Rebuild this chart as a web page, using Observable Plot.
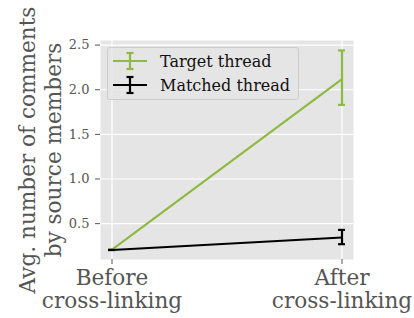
<!DOCTYPE html>
<html><head><meta charset="utf-8">
<script src="https://cdn.jsdelivr.net/npm/d3@7"></script>
<script src="https://cdn.jsdelivr.net/npm/@observablehq/plot@0.6"></script>
<style>
body{margin:0;background:#fff;}
#wrap{position:relative;width:414px;height:318px;}
#legend{position:absolute;left:107px;top:47px;width:190px;height:51px;background:rgba(229,229,229,0.85);border:1px solid #cccccc;border-radius:3px;font-family:'DejaVu Serif',serif;font-size:16px;color:#111;}
.row{position:absolute;left:5px;height:20px;display:flex;align-items:center;}
.row span{margin-left:13px;font-family:'DejaVu Serif',serif;}
</style></head>
<body><div id="wrap"><div id="legend"></div></div>
<script>
const stages = ["Before\ncross-linking", "After\ncross-linking"];
const targetMean = [0.21, 2.12];
const targetLow = [0.21, 1.83];
const targetHigh = [0.21, 2.44];
const matchedMean = [0.205, 0.345];
const matchedLow = [0.205, 0.27];
const matchedHigh = [0.205, 0.43];
const seriesNames = ["Target thread", "Matched thread"];
const seriesColors = ["#8EBA42", "#000000"];

const rows = [];
stages.forEach((s, i) => {
  rows.push({series: seriesNames[0], x: i, y: targetMean[i], lo: targetLow[i], hi: targetHigh[i]});
});
stages.forEach((s, i) => {
  rows.push({series: seriesNames[1], x: i, y: matchedMean[i], lo: matchedLow[i], hi: matchedHigh[i]});
});
const capW = 0.015;
const color = {domain: seriesNames, range: seriesColors};

const chart = Plot.plot({
  width: 414, height: 318,
  marginLeft: 100, marginRight: 61, marginTop: 40, marginBottom: 59,
  style: {fontFamily: "'DejaVu Serif', serif", background: "transparent"},
  x: {domain: [-0.05, 1.05]},
  y: {domain: [0.0985, 2.5515]},
  color,
  marks: [
    Plot.frame({fill: "#E5E5E5", stroke: null}),
    Plot.gridY([0.5, 1.0, 1.5, 2.0, 2.5], {stroke: "#fff", strokeOpacity: 1, strokeWidth: 1.2}),
    Plot.gridX([0, 1], {stroke: "#fff", strokeOpacity: 1, strokeWidth: 1.2}),
    Plot.axisY({ticks: [0.5, 1.0, 1.5, 2.0, 2.5], tickFormat: d3.format(".1f"), fontSize: 13, fontFamily: "DejaVu Serif", tickSize: 5, tickPadding: 6, stroke: "#555", fill: "#555", label: null}),
    Plot.axisX({ticks: [0, 1], tickFormat: i => stages[i], fontSize: 21.6, fontFamily: "DejaVu Serif", lineHeight: 1.08, tickSize: 5, tickPadding: 4, stroke: "#555", fill: "#555", label: null}),
    Plot.text(["Avg. number of comments\nby source members"], {frameAnchor: "left", dx: -61, rotate: -90, fontSize: 21.6, fontFamily: "DejaVu Serif", lineHeight: 1.2, fill: "#555", textAnchor: "middle", lineAnchor: "middle"}),
    Plot.line(rows, {x: "x", y: "y", z: "series", stroke: "series", strokeWidth: 2.2}),
    Plot.ruleX(rows, {x: "x", y1: "lo", y2: "hi", stroke: "series", strokeWidth: 2.2}),
    Plot.ruleY(rows, {y: "lo", x1: d => d.x - capW, x2: d => d.x + capW, stroke: "series", strokeWidth: 2.2}),
    Plot.ruleY(rows, {y: "hi", x1: d => d.x - capW, x2: d => d.x + capW, stroke: "series", strokeWidth: 2.2})
  ]
});
document.getElementById("wrap").prepend(chart);

const legend = document.getElementById("legend");
seriesNames.forEach((name, i) => {
  const row = document.createElement("div");
  row.className = "row";
  row.style.top = (3 + i * 24) + "px";
  const c = seriesColors[i];
  row.innerHTML = `<svg width="34" height="20"><line x1="0" x2="34" y1="10" y2="10" stroke="${c}" stroke-width="2.2"/><line x1="17" x2="17" y1="2" y2="18" stroke="${c}" stroke-width="2.2"/><line x1="13.5" x2="20.5" y1="2" y2="2" stroke="${c}" stroke-width="2.2"/><line x1="13.5" x2="20.5" y1="18" y2="18" stroke="${c}" stroke-width="2.2"/></svg><span>${name}</span>`;
  legend.appendChild(row);
});
</script></body></html>
